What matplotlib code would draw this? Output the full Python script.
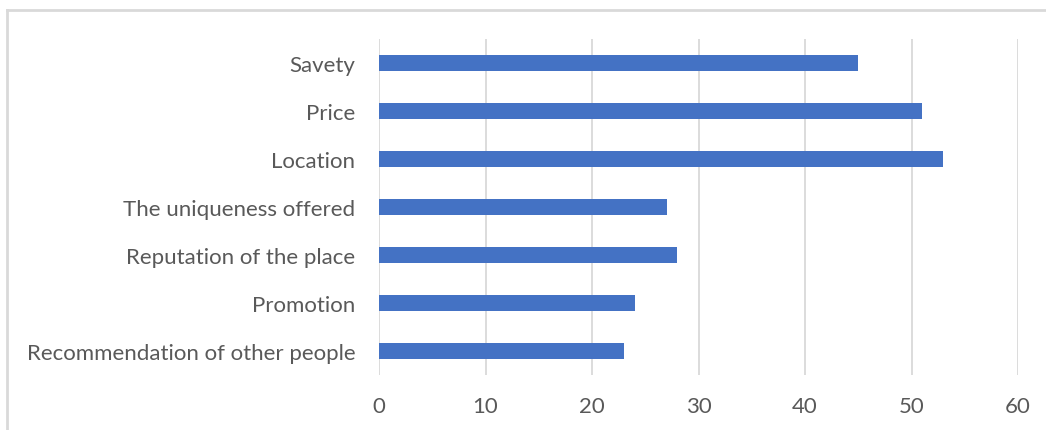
import matplotlib
matplotlib.use("Agg")
import matplotlib.pyplot as plt
from matplotlib.lines import Line2D

categories = ["Savety", "Price", "Location", "The uniqueness offered",
              "Reputation of the place", "Promotion", "Recommendation of other people"]
values = [45, 51, 53, 27, 28, 24, 23]
xticks = [0, 10, 20, 30, 40, 50, 60]

W, H = 1046, 431
fig = plt.figure(figsize=(W / 100, H / 100), dpi=100)
fig.patch.set_facecolor("white")

# plot area in pixels
x0, x1 = 379, 1018
ytop, ybot = 40, 376
ax = fig.add_axes([x0 / W, 1 - ybot / H, (x1 - x0) / W, (ybot - ytop) / H])

n = len(categories)
pos = list(range(n))
ax.barh(pos, values, height=0.34, color="#4472C4", zorder=3)
ax.set_ylim(n - 0.5, -0.5)
ax.set_xlim(0, 60)
ax.set_xticks(xticks)
ax.set_xticklabels([str(t) for t in xticks])
ax.set_yticks(pos)
ax.set_yticklabels(categories)
ax.grid(axis="x", color="#d9d9d9", linewidth=1.3, zorder=0)
for s in ax.spines.values():
    s.set_visible(False)
ax.tick_params(axis="both", length=0, labelcolor="#595959", labelsize=16)
ax.tick_params(axis="x", pad=15)
ax.tick_params(axis="y", pad=17)
for lab in ax.get_xticklabels() + ax.get_yticklabels():
    lab.set_fontfamily("Lato")

# chart border (extends beyond image right and bottom)
fig.add_artist(Line2D([7 / W, 1.0], [1 - 11 / H, 1 - 11 / H], color="#d9d9d9", linewidth=2))
fig.add_artist(Line2D([7 / W, 7 / W], [1 - 11 / H, 0.0], color="#d9d9d9", linewidth=2))

fig.savefig("out.png", dpi=100)
